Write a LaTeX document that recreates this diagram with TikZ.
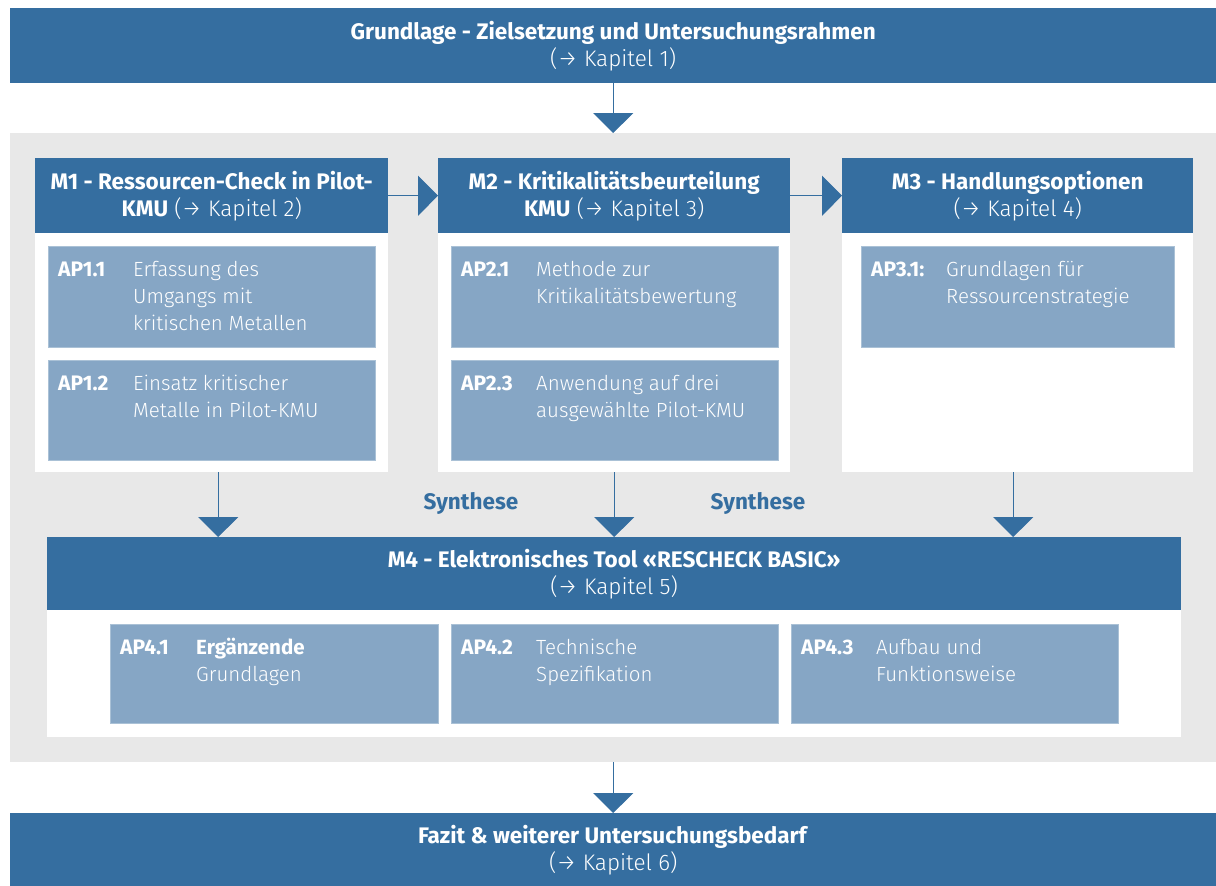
\documentclass[tikz,border=0pt]{standalone}
\usepackage{fontspec}
\setmainfont{Fira Sans Light}[BoldFont={Fira Sans Bold}]
\usetikzlibrary{arrows.meta,calc}
\definecolor{dblue}{RGB}{53,110,160}
\definecolor{lblue}{RGB}{134,166,197}
\definecolor{bggray}{RGB}{232,232,232}
\newcommand{\hfont}{\fontsize{22.5}{27}\selectfont}
\newcommand{\apfont}{\fontsize{20.5}{27}\selectfont}
\newcommand{\lbfont}{\fontsize{21}{27}\selectfont}
\newcommand{\ar}{→}
\newcommand{\fl}{\rule{0pt}{17pt}}
\tikzset{
  hdr/.style={fill=dblue, text=white, anchor=north west, inner sep=0pt, align=center, font=\hfont},
  panel/.style={fill=white, anchor=north west, inner sep=0pt},
  apbox/.style={fill=lblue, draw=lblue!70!white, line width=0.8pt, anchor=north west, inner sep=0pt},
  aplabel/.style={anchor=base west, inner sep=0pt, text=white, font=\lbfont\bfseries},
  aptext/.style={anchor=north west, inner sep=0pt, text=white, font=\apfont, align=left},
  conn/.style={draw=dblue, line width=1pt, -{Triangle[width=40pt,length=20pt]}},
  synth/.style={text=dblue, font=\hfont\bfseries, inner sep=0pt}
}
\begin{document}
\begin{tikzpicture}[x=1pt,y=-1pt]
\useasboundingbox (0,0) rectangle (1216,886);
% background panel
\node[fill=bggray, anchor=north west, inner sep=0pt, minimum width=1206pt, minimum height=629pt] (bg) at (10,133) {};
% top and bottom bars
\node[hdr, minimum width=1206pt, minimum height=75pt] (top) at (10,8) {\textbf{Grundlage - Zielsetzung und Untersuchungsrahmen}\\(\ar{} Kapitel 1)};
\node[hdr, minimum width=1206pt, minimum height=73pt] (bot) at (10,813) {\textbf{Fazit \& weiterer Untersuchungsbedarf}\\(\ar{} Kapitel 6)};
% module panels
\node[panel, minimum width=353pt, minimum height=239pt] (p1) at (35,233) {};
\node[panel, minimum width=352pt, minimum height=239pt] (p2) at (438,233) {};
\node[panel, minimum width=351pt, minimum height=239pt] (p3) at (842,233) {};
\node[hdr, minimum width=353pt, minimum height=75pt] (m1) at (35,158) {\textbf{M1 - Ressourcen-Check in Pilot-}\\\textbf{KMU} (\ar{} Kapitel 2)};
\node[hdr, minimum width=352pt, minimum height=75pt] (m2) at (438,158) {\textbf{M2 - Kritikalitätsbeurteilung}\\\textbf{KMU} (\ar{} Kapitel 3)};
\node[hdr, minimum width=351pt, minimum height=75pt] (m3) at (842,158) {\textbf{M3 - Handlungsoptionen}\\(\ar{} Kapitel 4)};
% M4
\node[panel, minimum width=1134pt, minimum height=127pt] (p4) at (47,610) {};
\node[hdr, minimum width=1134pt, minimum height=73pt] (m4) at (47,537) {\textbf{M4 - Elektronisches Tool «RESCHECK BASIC»}\\(\ar{} Kapitel 5)};
% AP boxes
\node[apbox, minimum width=327pt, minimum height=101pt] (a11) at (48,246) {};
\node[apbox, minimum width=327pt, minimum height=100pt] (a12) at (48,360) {};
\node[apbox, minimum width=327pt, minimum height=101pt] (a21) at (451,246) {};
\node[apbox, minimum width=327pt, minimum height=100pt] (a23) at (451,360) {};
\node[apbox, minimum width=313pt, minimum height=101pt] (a31) at (861,246) {};
\node[apbox, minimum width=328pt, minimum height=99pt] (a41) at (110,624) {};
\node[apbox, minimum width=327pt, minimum height=99pt] (a42) at (451,624) {};
\node[apbox, minimum width=327pt, minimum height=99pt] (a43) at (791,624) {};
% AP texts
\node[aplabel] (l11) at ($(a11.north west)+(10,30)$) {AP1.1};
\node[aptext] (t11) at ($(a11.north west)+(85,13)$) {\fl Erfassung des\\Umgangs mit\\kritischen Metallen};
\node[aplabel] (l12) at ($(a12.north west)+(10,30)$) {AP1.2};
\node[aptext] (t12) at ($(a12.north west)+(85,13)$) {\fl Einsatz kritischer\\Metalle in Pilot-KMU};
\node[aplabel] (l21) at ($(a21.north west)+(10,30)$) {AP2.1};
\node[aptext] (t21) at ($(a21.north west)+(85,13)$) {\fl Methode zur\\Kritikalitätsbewertung};
\node[aplabel] (l23) at ($(a23.north west)+(10,30)$) {AP2.3};
\node[aptext] (t23) at ($(a23.north west)+(85,13)$) {\fl Anwendung auf drei\\ausgewählte Pilot-KMU};
\node[aplabel] (l31) at ($(a31.north west)+(10,30)$) {AP3.1:};
\node[aptext] (t31) at ($(a31.north west)+(85,13)$) {\fl Grundlagen für\\Ressourcenstrategie};
\node[aplabel] (l41) at ($(a41.north west)+(10,30)$) {AP4.1};
\node[aptext] (t41) at ($(a41.north west)+(86,13)$) {\fl\textbf{Ergänzende}\\Grundlagen};
\node[aplabel] (l42) at ($(a42.north west)+(10,30)$) {AP4.2};
\node[aptext] (t42) at ($(a42.north west)+(85,13)$) {\fl Technische\\Spezifikation};
\node[aplabel] (l43) at ($(a43.north west)+(10,30)$) {AP4.3};
\node[aptext] (t43) at ($(a43.north west)+(85,13)$) {\fl Aufbau und\\Funktionsweise};
% Synthese labels
\node[synth] (s1) at (471,503) {Synthese};
\node[synth] (s2) at (758,503) {Synthese};
% connectors
\draw[conn] (top.south) -- (top.south |- bg.north);
\draw[conn] (m1.east) -- (m2.west);
\draw[conn] (m2.east) -- (m3.west);
\draw[conn] ($(p1.south)+(6.5,0)$) -- ($(p1.south |- m4.north)+(6.5,0)$);
\draw[conn] (p2.south) -- (p2.south |- m4.north);
\draw[conn] ($(p3.south)+(-4.5,0)$) -- ($(p3.south |- m4.north)+(-4.5,0)$);
\draw[conn] (bg.south -| top.south) -- (top.south |- bot.north);
\end{tikzpicture}
\end{document}
